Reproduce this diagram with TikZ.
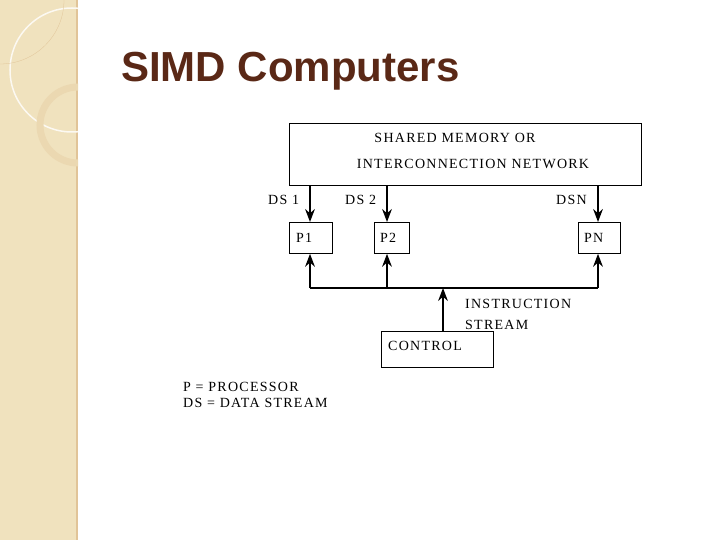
\documentclass[tikz,border=0pt]{standalone}
\usepackage{fontspec}
\setmainfont{Liberation Serif}[LetterSpace=9]
\newfontfamily\titlefont{Liberation Sans}
\usetikzlibrary{arrows.meta}
\definecolor{strip}{RGB}{240,226,190}
\definecolor{titlecol}{RGB}{90,40,22}
\tikzset{>=Stealth}
\begin{document}
\begin{tikzpicture}[x=1pt,y=-1pt,
                    BX/.style = {draw, line width=0.8, fill=white, inner sep=0, anchor=north west},
                    LB/.style = {font=\fontsize{14}{14}\selectfont, inner sep=0, anchor=west},
                    AR/.style = {->, line width=2.2}
               ]
               % slide background
               \useasboundingbox (0,0) rectangle (720,540);
               \fill[white] (0,0) rectangle (720,540);
               \fill[strip] (0,0) rectangle (78,540);
               \fill[strip!70!brown] (76,0) rectangle (78,540);
               \begin{scope}
               \clip (0,0) rectangle (78,540);
               \draw[white!80!strip, line width=1.5] (72,70) circle (62);
               \draw[strip!90!brown, line width=7] (78,125) circle (38);
               \draw[strip!70!brown, line width=0.3] (0,0) circle (64);
               \end{scope}
               % title
               \node[anchor=base west, inner sep=0, text=titlecol,
                     font=\titlefont\bfseries\fontsize{42}{42}\selectfont] (title) at (121,82) {SIMD Computers};
               % boxes
               \node[BX, minimum width=352, minimum height=62] (mem) at (289,123) {};
               \node[LB, anchor=center] (mem1) at (455,138) {SHARED MEMORY OR};
               \node[LB, anchor=center] (mem2) at (473,164) {INTERCONNECTION NETWORK};
               \node[BX, minimum width=43, minimum height=31] (p1) at (289,222) {};
               \node[BX, minimum width=35, minimum height=31] (p2) at (374,222) {};
               \node[BX, minimum width=42, minimum height=31] (pn) at (578,222) {};
               \node[LB] at (296,238) {P1};
               \node[LB] at (380,238) {P2};
               \node[LB] at (584,238) {PN};
               \node[BX, minimum width=112, minimum height=36] (ctl) at (381,331) {};
               \node[LB] (ctltxt) at (388,346) {CONTROL};
               % data streams
               \foreach \p/\xx in {p1/310, p2/387, pn/598}
                    \draw[AR] (mem.south -| \xx,0) -- (\p.north -| \xx,0);
               \node[LB] (ds1) at (268,200) {DS 1};
               \node[LB] (ds2) at (345,200) {DS 2};
               \node[LB] (dsn) at (556,200) {DSN};
               % instruction stream
               \coordinate (busL) at (310,288);
               \coordinate (busR) at (598,288);
               \draw[line width=2.2] (busL) -- (busR);
               \foreach \p/\xx in {p1/310, p2/387, pn/598}
                    \draw[AR] (\xx,288) -- (\p.south -| \xx,0);
               \draw[AR] (ctl.north -| 443,0) -- (443,288);
               \node[LB] (is1) at (465,304) {INSTRUCTION};
               \node[LB] (is2) at (465,325) {STREAM};
               % legend
               \node[LB] (lg1) at (183,387) {P = PROCESSOR};
               \node[LB] (lg2) at (183,403) {DS = DATA STREAM};
          \end{tikzpicture}
\end{document}
